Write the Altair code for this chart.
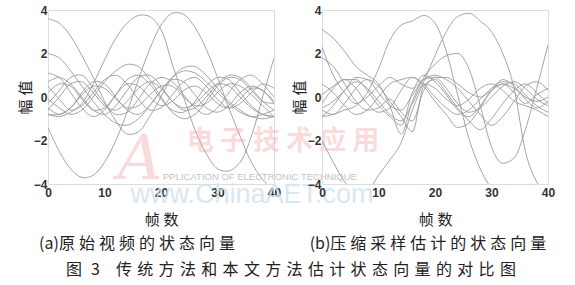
import altair as alt
import pandas as pd

FRAMES = [0, 2, 4, 6, 8, 10, 12, 14, 16, 18, 20, 22, 24, 26, 28, 30, 32, 34, 36, 38, 40]
X_TICKS = [0, 10, 20, 30, 40]
Y_TICKS = [-4, -2, 0, 2, 4]

# (a) original video state vectors
LEFT = {
    "a1": [3.6, 3.4, 2.8, 1.9, 0.9, -0.2, -1.1, -1.7, -1.6, -0.9, 0.0, 0.9, 1.35, 1.4, 1.0, 0.4, -0.2, -0.6, -0.9, -1.0, -0.9],
    "a2": [-1.4, -2.5, -3.3, -3.7, -3.6, -3.0, -2.0, -0.7, 0.8, 2.2, 3.3, 3.85, 3.8, 3.2, 2.2, 0.9, -0.5, -1.8, -3.0, -3.8, -4.3],
    "a3": [-0.8, -0.9, -0.7, -0.3, 0.6, 1.7, 2.7, 3.4, 3.75, 3.7, 3.1, 1.5, 0.0, -1.5, -2.6, -3.3, -3.4, -3.0, -1.8, 0.0, 1.8],
    "a4": [2.0, 1.8, 1.2, 0.5, -0.2, -0.8, -1.2, -1.3, -1.0, -0.4, 0.3, 0.9, 1.2, 1.1, 0.7, 0.2, -0.3, -0.7, -0.9, -0.8, -0.6],
    "a5": [1.1, 0.9, 0.2, -0.5, -0.9, -0.6, 0.1, 0.8, 1.0, 0.6, -0.1, -0.6, -0.7, -0.2, 0.5, 0.9, 0.8, 0.2, -0.4, -0.8, -0.9],
    "a6": [0.7, 0.9, 0.6, 0.0, -0.6, -0.8, -0.4, 0.3, 0.9, 1.0, 0.5, -0.2, -0.6, -0.5, 0.0, 0.6, 1.0, 0.9, 0.4, -0.2, -0.6],
    "a7": [0.5, -0.1, -0.6, -0.4, 0.2, 0.8, 1.0, 0.6, -0.1, -0.6, -0.5, 0.1, 0.7, 0.9, 0.5, -0.1, -0.5, -0.3, 0.2, 0.6, 0.4],
    "a8": [-0.3, 0.3, 0.9, 1.0, 0.4, -0.3, -0.8, -0.7, -0.1, 0.6, 0.9, 0.7, 0.1, -0.5, -0.8, -0.5, 0.2, 0.8, 1.0, 0.6, 0.0],
    "a9": [-0.5, -0.8, -0.5, 0.2, 0.7, 0.6, 0.0, -0.6, -0.8, -0.4, 0.3, 0.8, 0.7, 0.1, -0.5, -0.7, -0.4, 0.2, 0.5, 0.3, -0.2],
    "a10": [-0.6, 0.0, 0.6, 0.7, 0.2, -0.4, -0.6, -0.2, 0.4, 0.7, 0.4, -0.2, -0.5, -0.3, 0.2, 0.6, 0.5, 0.0, -0.5, -0.8, -0.9],
    "a11": [-0.8, -0.8, -0.5, 0.1, 0.5, 0.4, -0.1, -0.5, -0.4, 0.1, 0.5, 0.5, 0.0, -0.4, -0.3, 0.2, 0.6, 0.5, 0.1, -0.4, -0.9],
    "a12": [0.2, 0.6, 0.5, -0.1, -0.6, -0.5, 0.1, 0.6, 0.5, 0.0, -0.4, -0.2, 0.3, 0.5, 0.2, -0.3, -0.5, -0.1, 0.4, 0.3, -0.3],
    "a13": [-0.1, -0.5, -0.8, -0.6, 0.0, 0.7, 1.2, 1.5, 1.4, 0.8, 0.0, -0.7, -1.0, -0.8, -0.2, 0.5, 0.9, 0.8, 0.3, -0.2, -0.3],
}

# (b) compressed-sampling estimated state vectors
RIGHT = {
    "b1": [3.1, 2.7, 2.1, 1.4, 1.0, 0.6, -0.4, -1.7, -0.2, 0.9, 1.5, 1.9, 2.0, 1.3, -0.4, -2.3, -3.05, -2.8, -1.5, 0.4, 2.4],
    "b2": [2.3, 1.0, 0.2, -0.3, 0.0, 0.5, 0.9, 0.6, 0.4, 0.8, 0.9, 0.9, 0.6, 0.2, 0.0, 0.3, 0.6, 0.4, 0.0, -0.2, 0.0],
    "b3": [1.8, 1.4, 0.6, -0.2, -0.6, -0.5, -0.1, -0.7, -1.1, 0.3, 0.9, 0.4, -0.3, -0.7, -0.5, 0.0, 0.5, 0.7, 0.4, -0.1, -0.4],
    "b4": [-0.9, -0.8, -0.6, -0.4, 0.2, 1.3, 2.6, 3.3, 3.5, 3.75, 3.4, 2.1, 0.1, -1.9, -3.3, -4.2, -4.6, -4.6, -4.6, -4.6, -4.6],
    "b5": [-2.0, -3.0, -3.9, -4.4, -4.3, -3.6, -2.9, -2.1, -0.6, 0.7, 1.9, 3.0, 3.7, 3.85, 3.5, 3.0, 2.0, 0.4, -2.5, -3.9, -4.5],
    "b6": [0.6, 0.2, -0.4, -0.8, -0.6, 0.0, 0.6, 0.8, 0.9, 0.6, 0.0, -0.5, -0.8, -0.6, -0.1, 0.4, 0.7, 0.6, 0.1, -0.4, -0.7],
    "b7": [0.1, 0.5, 0.8, 0.8, 0.3, -0.4, -0.9, -1.3, 0.2, 1.0, 0.7, 0.1, -0.6, -0.9, -0.4, 0.3, 0.8, 0.5, -0.1, -0.5, -0.2],
    "b8": [-0.3, 0.4, 0.8, 0.4, -0.3, -0.7, -0.5, 0.3, 0.9, 0.5, -0.2, -0.8, -1.4, -1.2, -0.5, 0.3, 0.6, 0.2, -0.3, 0.1, 0.4],
    "b9": [-0.5, -0.2, 0.3, 0.9, 0.8, 0.2, -0.4, -0.6, 0.1, 0.8, 1.0, 0.8, 0.4, -0.2, -0.8, -1.3, -0.9, -0.2, 0.5, 0.7, 0.3],
    "b10": [-0.9, -0.4, 0.3, 0.7, 0.4, -0.2, -0.8, -1.1, -0.3, 0.6, 0.4, -0.1, -0.4, -0.1, 0.4, 0.6, 0.3, -0.2, -0.4, -0.6, -0.9],
    "b11": [-0.6, -0.8, -0.3, 0.4, 0.8, 0.5, -0.2, -0.9, -1.6, 0.5, 0.8, 0.2, -0.5, -1.1, -1.5, -1.0, -0.3, 0.3, 0.6, 0.2, -0.3],
}

CJK = "Noto Sans CJK SC"
LAT = "Liberation Sans"
W, H = 226, 174
G4 = "\u2005"   # four-per-em space
G3 = "\u2004"   # three-per-em space

SUB_A = "(a)" + G4.join("原始视频的状态向量")
SUB_B = "(b)" + G4.join("压缩采样估计的状态向量")
MAIN = "图 " + G3 + "3" + G3 + G3 + G3 + G3.join("传统方法和本文方法估计状态向量的对比图")


def to_long(series):
    rows = []
    for name, vals in series.items():
        for f, v in zip(FRAMES, vals):
            rows.append({"frame": f, "value": v, "curve": name})
    return pd.DataFrame(rows)


def one_row():
    return alt.Data(values=[{"k": 1}])


def text_layer(txt, x, y, size, color="#222222", font=CJK, align="center", **kw):
    return alt.Chart(one_row()).mark_text(
        font=font, fontSize=size, color=color, align=align, baseline="middle", **kw
    ).encode(x=alt.value(x), y=alt.value(y), text=alt.value(txt))


def panel(series, interp):
    xa = alt.Axis(values=X_TICKS, title="帧" + G4 + "数", labelFlush=False, ticks=False, grid=False,
                  domain=False, labelPadding=3, titlePadding=14, titleFont=CJK, titleFontSize=15,
                  titleFontWeight="normal", titleColor="#222222", labelFont=LAT, labelFontSize=12,
                  labelFontWeight="bold", labelColor="#333333")
    ya = alt.Axis(values=Y_TICKS, title="幅" + G4 + "值", labelFlush=False, ticks=False, grid=False,
                  domain=False, labelPadding=1, titlePadding=0, titleFont=CJK, titleFontSize=15,
                  titleFontWeight="normal", titleColor="#222222", labelFont=LAT, labelFontSize=12,
                  labelFontWeight="bold", labelColor="#333333")
    return alt.Chart(to_long(series)).mark_line(
        clip=True, strokeWidth=0.9, color="#9a9a9a", interpolate=interp
    ).encode(
        x=alt.X("frame:Q", scale=alt.Scale(domain=[0, 40], nice=False), axis=xa),
        y=alt.Y("value:Q", scale=alt.Scale(domain=[-4, 4], nice=False), axis=ya),
        detail="curve:N",
    )


left = alt.layer(
    panel(LEFT, "catmull-rom"),
    text_layer(SUB_A, 89, 234, 16),
    text_layer(MAIN, 243, 260, 16),
    text_layer("www.ChinaAET.com", 204, 185, 27, color="#cfe2ef", font=LAT, opacity=0.8),
    text_layer("PPLICATION OF ELECTRONIC TECHNIQUE", 115, 167, 9.5, color="#c4c4c4",
               font=LAT, align="left"),
    text_layer("电 子 技 术 应 用", 235, 132, 27, color="#f4a6a6", fontWeight="bold", opacity=0.4),
    text_layer("A", 92, 150, 62, color="#f4a6a6", font="DejaVu Serif", fontStyle="italic", opacity=0.4),
).properties(width=W, height=H)

right = alt.layer(
    panel(RIGHT, "monotone"),
    text_layer(SUB_B, 106, 234, 16),
).properties(width=W, height=H)

chart = alt.hconcat(left, right, spacing=48, bounds="flush").properties(
    padding={"left": 17, "top": 3, "right": 0, "bottom": 0}
).configure_view(stroke="#c0c0c0", strokeWidth=1).configure(background="white")

chart.save("out.html", embed_options={"renderer": "svg", "actions": False})
